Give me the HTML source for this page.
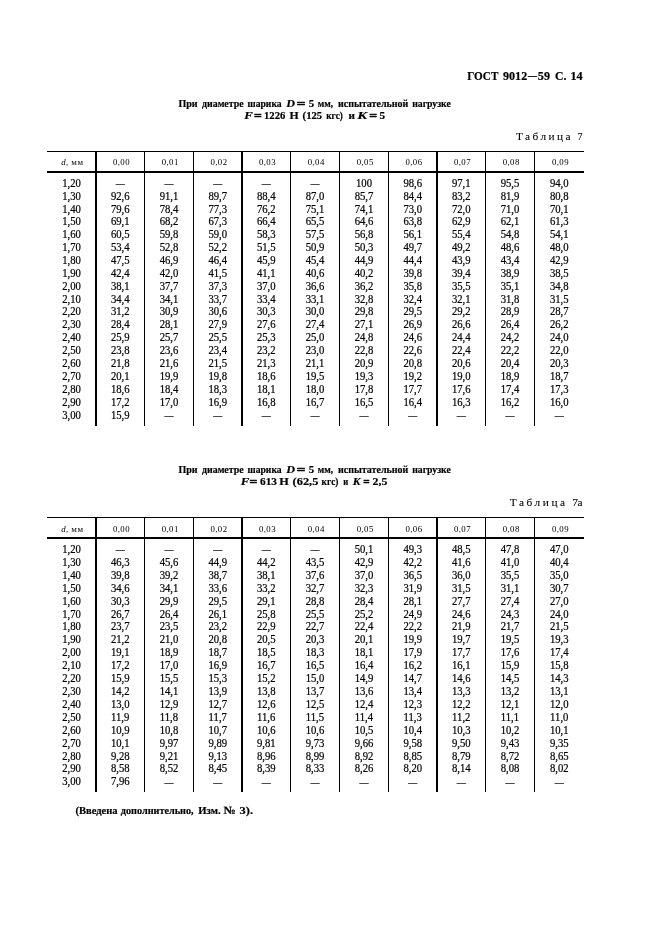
<!DOCTYPE html>
<html lang="ru"><head><meta charset="utf-8"><title>ГОСТ 9012—59 С. 14</title>
<style>
html,body{margin:0;padding:0;background:#fff;}
body{width:661px;height:936px;overflow:hidden;}
svg{display:block;}
text{font-family:"Liberation Serif",serif;fill:#000;}
.hdr{font-size:12.5px;font-weight:bold;letter-spacing:0px;}
.title{font-size:11.4px;font-weight:bold;letter-spacing:0px;word-spacing:0px;}
.it{font-style:italic;}
.tabno{font-size:11.3px;letter-spacing:0px;}
.hcell{font-size:8.8px;letter-spacing:0.4px;fill:#000;}
.cell{font-size:10.7px;letter-spacing:0px;}
.dash{font-size:9px;}
.hd{font-size:10px;stroke-width:0.5px;}
.cell{stroke:#000;stroke-width:0.2px;}
.hcell{stroke:#000;stroke-width:0.0px;}
.mm{letter-spacing:0.8px;}
.eq{stroke-width:0.55px;}
.title,.hdr,.foot{stroke:#000;stroke-width:0.2px;}
.tabno{stroke:#000;stroke-width:0.08px;}
.foot{font-size:11px;font-weight:bold;letter-spacing:0px;}
</style></head><body>
<svg width="661" height="936" viewBox="0 0 661 936">
<rect x="0" y="0" width="661" height="936" fill="#fff"/>
<text x="467.2" y="80.1" class="hdr" text-anchor="start" textLength="31.2" lengthAdjust="spacingAndGlyphs">ГОСТ</text>
<text x="503.0" y="80.1" class="hdr" text-anchor="start" textLength="24.2" lengthAdjust="spacingAndGlyphs">9012</text>
<text x="528.0" y="79.2" class="hdr hd" text-anchor="start" textLength="9.0" lengthAdjust="spacingAndGlyphs">—</text>
<text x="537.8" y="80.1" class="hdr" text-anchor="start" textLength="12.2" lengthAdjust="spacingAndGlyphs">59</text>
<text x="555.0" y="80.1" class="hdr" text-anchor="start" textLength="11.4" lengthAdjust="spacingAndGlyphs">С.</text>
<text x="570.4" y="80.1" class="hdr" text-anchor="start" textLength="12.2" lengthAdjust="spacingAndGlyphs">14</text>
<text x="178.4" y="106.9" class="title" text-anchor="start" textLength="19.2" lengthAdjust="spacingAndGlyphs">При</text>
<text x="202.0" y="106.9" class="title" text-anchor="start" textLength="41.6" lengthAdjust="spacingAndGlyphs">диаметре</text>
<text x="247.6" y="106.9" class="title" text-anchor="start" textLength="34.0" lengthAdjust="spacingAndGlyphs">шарика</text>
<text x="286.2" y="106.9" class="title" text-anchor="start" textLength="8.8" lengthAdjust="spacingAndGlyphs"><tspan class="it">D</tspan></text>
<text x="296.8" y="106.9" class="title" text-anchor="start" textLength="8.6" lengthAdjust="spacingAndGlyphs"><tspan class="eq">=</tspan></text>
<text x="308.8" y="106.9" class="title" text-anchor="start" textLength="5.4" lengthAdjust="spacingAndGlyphs">5</text>
<text x="317.8" y="106.9" class="title" text-anchor="start" textLength="15.4" lengthAdjust="spacingAndGlyphs">мм,</text>
<text x="338.0" y="106.9" class="title" text-anchor="start" textLength="70.4" lengthAdjust="spacingAndGlyphs">испытательной</text>
<text x="412.2" y="106.9" class="title" text-anchor="start" textLength="38.6" lengthAdjust="spacingAndGlyphs">нагрузке</text>
<text x="244.2" y="119.3" class="title" text-anchor="start" textLength="8.6" lengthAdjust="spacingAndGlyphs"><tspan class="it">F</tspan></text>
<text x="254.0" y="119.3" class="title" text-anchor="start" textLength="7.8" lengthAdjust="spacingAndGlyphs"><tspan class="eq">=</tspan></text>
<text x="264.0" y="119.3" class="title" text-anchor="start" textLength="21.4" lengthAdjust="spacingAndGlyphs">1226</text>
<text x="289.6" y="119.3" class="title" text-anchor="start" textLength="9.2" lengthAdjust="spacingAndGlyphs">Н</text>
<text x="302.6" y="119.3" class="title" text-anchor="start" textLength="19.6" lengthAdjust="spacingAndGlyphs">(125</text>
<text x="326.2" y="119.3" class="title" text-anchor="start" textLength="16.6" lengthAdjust="spacingAndGlyphs">кгс)</text>
<text x="348.4" y="119.3" class="title" text-anchor="start" textLength="6.4" lengthAdjust="spacingAndGlyphs">и</text>
<text x="357.2" y="119.3" class="title" text-anchor="start" textLength="10.0" lengthAdjust="spacingAndGlyphs"><tspan class="it">K</tspan></text>
<text x="369.2" y="119.3" class="title" text-anchor="start" textLength="7.8" lengthAdjust="spacingAndGlyphs"><tspan class="eq">=</tspan></text>
<text x="379.6" y="119.3" class="title" text-anchor="start" textLength="5.6" lengthAdjust="spacingAndGlyphs">5</text>
<text x="178.4" y="472.9" class="title" text-anchor="start" textLength="19.2" lengthAdjust="spacingAndGlyphs">При</text>
<text x="202.0" y="472.9" class="title" text-anchor="start" textLength="41.6" lengthAdjust="spacingAndGlyphs">диаметре</text>
<text x="247.6" y="472.9" class="title" text-anchor="start" textLength="34.0" lengthAdjust="spacingAndGlyphs">шарика</text>
<text x="286.2" y="472.9" class="title" text-anchor="start" textLength="8.8" lengthAdjust="spacingAndGlyphs"><tspan class="it">D</tspan></text>
<text x="296.8" y="472.9" class="title" text-anchor="start" textLength="8.6" lengthAdjust="spacingAndGlyphs"><tspan class="eq">=</tspan></text>
<text x="308.8" y="472.9" class="title" text-anchor="start" textLength="5.4" lengthAdjust="spacingAndGlyphs">5</text>
<text x="317.8" y="472.9" class="title" text-anchor="start" textLength="15.4" lengthAdjust="spacingAndGlyphs">мм,</text>
<text x="338.0" y="472.9" class="title" text-anchor="start" textLength="70.4" lengthAdjust="spacingAndGlyphs">испытательной</text>
<text x="412.2" y="472.9" class="title" text-anchor="start" textLength="38.6" lengthAdjust="spacingAndGlyphs">нагрузке</text>
<text x="240.8" y="485.0" class="title" text-anchor="start" textLength="8.6" lengthAdjust="spacingAndGlyphs"><tspan class="it">F</tspan></text>
<text x="249.6" y="485.0" class="title" text-anchor="start" textLength="7.8" lengthAdjust="spacingAndGlyphs"><tspan class="eq">=</tspan></text>
<text x="260.0" y="485.0" class="title" text-anchor="start" textLength="17.0" lengthAdjust="spacingAndGlyphs">613</text>
<text x="279.2" y="485.0" class="title" text-anchor="start" textLength="9.6" lengthAdjust="spacingAndGlyphs">Н</text>
<text x="292.6" y="485.0" class="title" text-anchor="start" textLength="25.8" lengthAdjust="spacingAndGlyphs">(62,5</text>
<text x="321.6" y="485.0" class="title" text-anchor="start" textLength="16.8" lengthAdjust="spacingAndGlyphs">кгс)</text>
<text x="343.2" y="485.0" class="title" text-anchor="start" textLength="5.0" lengthAdjust="spacingAndGlyphs">и</text>
<text x="352.8" y="485.0" class="title" text-anchor="start" textLength="7.8" lengthAdjust="spacingAndGlyphs"><tspan class="it">K</tspan></text>
<text x="363.2" y="485.0" class="title" text-anchor="start" textLength="6.4" lengthAdjust="spacingAndGlyphs"><tspan class="eq">=</tspan></text>
<text x="372.6" y="485.0" class="title" text-anchor="start" textLength="14.8" lengthAdjust="spacingAndGlyphs">2,5</text>
<text x="516.0" y="140.1" class="tabno" text-anchor="start" textLength="54.4" lengthAdjust="spacing">Таблица</text>
<text x="577.6" y="140.1" class="tabno" text-anchor="start" textLength="5.0" lengthAdjust="spacingAndGlyphs">7</text>
<text x="509.8" y="506.0" class="tabno" text-anchor="start" textLength="55.2" lengthAdjust="spacing">Таблица</text>
<text x="572.2" y="506.0" class="tabno" text-anchor="start" textLength="10.4" lengthAdjust="spacing">7а</text>
<text x="75.4" y="814.3" class="foot" text-anchor="start" textLength="42.2" lengthAdjust="spacingAndGlyphs">(Введена</text>
<text x="120.8" y="814.3" class="foot" text-anchor="start" textLength="72.8" lengthAdjust="spacingAndGlyphs">дополнительно,</text>
<text x="198.2" y="814.3" class="foot" text-anchor="start" textLength="22.4" lengthAdjust="spacingAndGlyphs">Изм.</text>
<text x="223.6" y="814.3" class="foot" text-anchor="start" textLength="12.2" lengthAdjust="spacingAndGlyphs">№</text>
<text x="239.6" y="814.3" class="foot" text-anchor="start" textLength="13.6" lengthAdjust="spacingAndGlyphs">3).</text>
<rect x="47" y="151" width="537" height="1.0" fill="#000"/>
<rect x="47" y="171" width="537" height="2" fill="#000"/>
<rect x="95" y="151" width="2" height="275" fill="#000"/>
<rect x="144" y="151" width="1" height="275" fill="#000"/>
<rect x="193" y="151" width="1" height="275" fill="#000"/>
<rect x="241" y="151" width="2" height="275" fill="#000"/>
<rect x="290" y="151" width="1" height="275" fill="#000"/>
<rect x="339" y="151" width="1" height="275" fill="#000"/>
<rect x="388" y="151" width="1" height="275" fill="#000"/>
<rect x="436" y="151" width="2" height="275" fill="#000"/>
<rect x="485" y="151" width="1" height="275" fill="#000"/>
<rect x="534" y="151" width="1" height="275" fill="#000"/>
<text x="72.5" y="165.1" class="hcell" text-anchor="middle"><tspan class="it">d</tspan>, <tspan class="mm">мм</tspan></text>
<text x="121.45" y="165.1" class="hcell" text-anchor="middle">0,00</text>
<text x="170.2" y="165.1" class="hcell" text-anchor="middle">0,01</text>
<text x="218.95" y="165.1" class="hcell" text-anchor="middle">0,02</text>
<text x="267.45" y="165.1" class="hcell" text-anchor="middle">0,03</text>
<text x="316.2" y="165.1" class="hcell" text-anchor="middle">0,04</text>
<text x="365.2" y="165.1" class="hcell" text-anchor="middle">0,05</text>
<text x="413.95" y="165.1" class="hcell" text-anchor="middle">0,06</text>
<text x="462.45" y="165.1" class="hcell" text-anchor="middle">0,07</text>
<text x="511.2" y="165.1" class="hcell" text-anchor="middle">0,08</text>
<text x="560.45" y="165.1" class="hcell" text-anchor="middle">0,09</text>
<text x="71.5" y="186.8" class="cell" text-anchor="middle" transform="matrix(1 0 0 1.08 0 -14.944)">1,20</text>
<text x="120.25" y="185.5" class="cell dash" text-anchor="middle">—</text>
<text x="169.0" y="185.5" class="cell dash" text-anchor="middle">—</text>
<text x="217.75" y="185.5" class="cell dash" text-anchor="middle">—</text>
<text x="266.25" y="185.5" class="cell dash" text-anchor="middle">—</text>
<text x="315.0" y="185.5" class="cell dash" text-anchor="middle">—</text>
<text x="364.0" y="186.8" class="cell" text-anchor="middle" transform="matrix(1 0 0 1.08 0 -14.944)">100</text>
<text x="412.75" y="186.8" class="cell" text-anchor="middle" transform="matrix(1 0 0 1.08 0 -14.944)">98,6</text>
<text x="461.25" y="186.8" class="cell" text-anchor="middle" transform="matrix(1 0 0 1.08 0 -14.944)">97,1</text>
<text x="510.0" y="186.8" class="cell" text-anchor="middle" transform="matrix(1 0 0 1.08 0 -14.944)">95,5</text>
<text x="559.25" y="186.8" class="cell" text-anchor="middle" transform="matrix(1 0 0 1.08 0 -14.944)">94,0</text>
<text x="71.5" y="199.67" class="cell" text-anchor="middle" transform="matrix(1 0 0 1.08 0 -15.974)">1,30</text>
<text x="120.25" y="199.67" class="cell" text-anchor="middle" transform="matrix(1 0 0 1.08 0 -15.974)">92,6</text>
<text x="169.0" y="199.67" class="cell" text-anchor="middle" transform="matrix(1 0 0 1.08 0 -15.974)">91,1</text>
<text x="217.75" y="199.67" class="cell" text-anchor="middle" transform="matrix(1 0 0 1.08 0 -15.974)">89,7</text>
<text x="266.25" y="199.67" class="cell" text-anchor="middle" transform="matrix(1 0 0 1.08 0 -15.974)">88,4</text>
<text x="315.0" y="199.67" class="cell" text-anchor="middle" transform="matrix(1 0 0 1.08 0 -15.974)">87,0</text>
<text x="364.0" y="199.67" class="cell" text-anchor="middle" transform="matrix(1 0 0 1.08 0 -15.974)">85,7</text>
<text x="412.75" y="199.67" class="cell" text-anchor="middle" transform="matrix(1 0 0 1.08 0 -15.974)">84,4</text>
<text x="461.25" y="199.67" class="cell" text-anchor="middle" transform="matrix(1 0 0 1.08 0 -15.974)">83,2</text>
<text x="510.0" y="199.67" class="cell" text-anchor="middle" transform="matrix(1 0 0 1.08 0 -15.974)">81,9</text>
<text x="559.25" y="199.67" class="cell" text-anchor="middle" transform="matrix(1 0 0 1.08 0 -15.974)">80,8</text>
<text x="71.5" y="212.54" class="cell" text-anchor="middle" transform="matrix(1 0 0 1.08 0 -17.003)">1,40</text>
<text x="120.25" y="212.54" class="cell" text-anchor="middle" transform="matrix(1 0 0 1.08 0 -17.003)">79,6</text>
<text x="169.0" y="212.54" class="cell" text-anchor="middle" transform="matrix(1 0 0 1.08 0 -17.003)">78,4</text>
<text x="217.75" y="212.54" class="cell" text-anchor="middle" transform="matrix(1 0 0 1.08 0 -17.003)">77,3</text>
<text x="266.25" y="212.54" class="cell" text-anchor="middle" transform="matrix(1 0 0 1.08 0 -17.003)">76,2</text>
<text x="315.0" y="212.54" class="cell" text-anchor="middle" transform="matrix(1 0 0 1.08 0 -17.003)">75,1</text>
<text x="364.0" y="212.54" class="cell" text-anchor="middle" transform="matrix(1 0 0 1.08 0 -17.003)">74,1</text>
<text x="412.75" y="212.54" class="cell" text-anchor="middle" transform="matrix(1 0 0 1.08 0 -17.003)">73,0</text>
<text x="461.25" y="212.54" class="cell" text-anchor="middle" transform="matrix(1 0 0 1.08 0 -17.003)">72,0</text>
<text x="510.0" y="212.54" class="cell" text-anchor="middle" transform="matrix(1 0 0 1.08 0 -17.003)">71,0</text>
<text x="559.25" y="212.54" class="cell" text-anchor="middle" transform="matrix(1 0 0 1.08 0 -17.003)">70,1</text>
<text x="71.5" y="225.41" class="cell" text-anchor="middle" transform="matrix(1 0 0 1.08 0 -18.033)">1,50</text>
<text x="120.25" y="225.41" class="cell" text-anchor="middle" transform="matrix(1 0 0 1.08 0 -18.033)">69,1</text>
<text x="169.0" y="225.41" class="cell" text-anchor="middle" transform="matrix(1 0 0 1.08 0 -18.033)">68,2</text>
<text x="217.75" y="225.41" class="cell" text-anchor="middle" transform="matrix(1 0 0 1.08 0 -18.033)">67,3</text>
<text x="266.25" y="225.41" class="cell" text-anchor="middle" transform="matrix(1 0 0 1.08 0 -18.033)">66,4</text>
<text x="315.0" y="225.41" class="cell" text-anchor="middle" transform="matrix(1 0 0 1.08 0 -18.033)">65,5</text>
<text x="364.0" y="225.41" class="cell" text-anchor="middle" transform="matrix(1 0 0 1.08 0 -18.033)">64,6</text>
<text x="412.75" y="225.41" class="cell" text-anchor="middle" transform="matrix(1 0 0 1.08 0 -18.033)">63,8</text>
<text x="461.25" y="225.41" class="cell" text-anchor="middle" transform="matrix(1 0 0 1.08 0 -18.033)">62,9</text>
<text x="510.0" y="225.41" class="cell" text-anchor="middle" transform="matrix(1 0 0 1.08 0 -18.033)">62,1</text>
<text x="559.25" y="225.41" class="cell" text-anchor="middle" transform="matrix(1 0 0 1.08 0 -18.033)">61,3</text>
<text x="71.5" y="238.28" class="cell" text-anchor="middle" transform="matrix(1 0 0 1.08 0 -19.062)">1,60</text>
<text x="120.25" y="238.28" class="cell" text-anchor="middle" transform="matrix(1 0 0 1.08 0 -19.062)">60,5</text>
<text x="169.0" y="238.28" class="cell" text-anchor="middle" transform="matrix(1 0 0 1.08 0 -19.062)">59,8</text>
<text x="217.75" y="238.28" class="cell" text-anchor="middle" transform="matrix(1 0 0 1.08 0 -19.062)">59,0</text>
<text x="266.25" y="238.28" class="cell" text-anchor="middle" transform="matrix(1 0 0 1.08 0 -19.062)">58,3</text>
<text x="315.0" y="238.28" class="cell" text-anchor="middle" transform="matrix(1 0 0 1.08 0 -19.062)">57,5</text>
<text x="364.0" y="238.28" class="cell" text-anchor="middle" transform="matrix(1 0 0 1.08 0 -19.062)">56,8</text>
<text x="412.75" y="238.28" class="cell" text-anchor="middle" transform="matrix(1 0 0 1.08 0 -19.062)">56,1</text>
<text x="461.25" y="238.28" class="cell" text-anchor="middle" transform="matrix(1 0 0 1.08 0 -19.062)">55,4</text>
<text x="510.0" y="238.28" class="cell" text-anchor="middle" transform="matrix(1 0 0 1.08 0 -19.062)">54,8</text>
<text x="559.25" y="238.28" class="cell" text-anchor="middle" transform="matrix(1 0 0 1.08 0 -19.062)">54,1</text>
<text x="71.5" y="251.15" class="cell" text-anchor="middle" transform="matrix(1 0 0 1.08 0 -20.092)">1,70</text>
<text x="120.25" y="251.15" class="cell" text-anchor="middle" transform="matrix(1 0 0 1.08 0 -20.092)">53,4</text>
<text x="169.0" y="251.15" class="cell" text-anchor="middle" transform="matrix(1 0 0 1.08 0 -20.092)">52,8</text>
<text x="217.75" y="251.15" class="cell" text-anchor="middle" transform="matrix(1 0 0 1.08 0 -20.092)">52,2</text>
<text x="266.25" y="251.15" class="cell" text-anchor="middle" transform="matrix(1 0 0 1.08 0 -20.092)">51,5</text>
<text x="315.0" y="251.15" class="cell" text-anchor="middle" transform="matrix(1 0 0 1.08 0 -20.092)">50,9</text>
<text x="364.0" y="251.15" class="cell" text-anchor="middle" transform="matrix(1 0 0 1.08 0 -20.092)">50,3</text>
<text x="412.75" y="251.15" class="cell" text-anchor="middle" transform="matrix(1 0 0 1.08 0 -20.092)">49,7</text>
<text x="461.25" y="251.15" class="cell" text-anchor="middle" transform="matrix(1 0 0 1.08 0 -20.092)">49,2</text>
<text x="510.0" y="251.15" class="cell" text-anchor="middle" transform="matrix(1 0 0 1.08 0 -20.092)">48,6</text>
<text x="559.25" y="251.15" class="cell" text-anchor="middle" transform="matrix(1 0 0 1.08 0 -20.092)">48,0</text>
<text x="71.5" y="264.02" class="cell" text-anchor="middle" transform="matrix(1 0 0 1.08 0 -21.122)">1,80</text>
<text x="120.25" y="264.02" class="cell" text-anchor="middle" transform="matrix(1 0 0 1.08 0 -21.122)">47,5</text>
<text x="169.0" y="264.02" class="cell" text-anchor="middle" transform="matrix(1 0 0 1.08 0 -21.122)">46,9</text>
<text x="217.75" y="264.02" class="cell" text-anchor="middle" transform="matrix(1 0 0 1.08 0 -21.122)">46,4</text>
<text x="266.25" y="264.02" class="cell" text-anchor="middle" transform="matrix(1 0 0 1.08 0 -21.122)">45,9</text>
<text x="315.0" y="264.02" class="cell" text-anchor="middle" transform="matrix(1 0 0 1.08 0 -21.122)">45,4</text>
<text x="364.0" y="264.02" class="cell" text-anchor="middle" transform="matrix(1 0 0 1.08 0 -21.122)">44,9</text>
<text x="412.75" y="264.02" class="cell" text-anchor="middle" transform="matrix(1 0 0 1.08 0 -21.122)">44,4</text>
<text x="461.25" y="264.02" class="cell" text-anchor="middle" transform="matrix(1 0 0 1.08 0 -21.122)">43,9</text>
<text x="510.0" y="264.02" class="cell" text-anchor="middle" transform="matrix(1 0 0 1.08 0 -21.122)">43,4</text>
<text x="559.25" y="264.02" class="cell" text-anchor="middle" transform="matrix(1 0 0 1.08 0 -21.122)">42,9</text>
<text x="71.5" y="276.89" class="cell" text-anchor="middle" transform="matrix(1 0 0 1.08 0 -22.151)">1,90</text>
<text x="120.25" y="276.89" class="cell" text-anchor="middle" transform="matrix(1 0 0 1.08 0 -22.151)">42,4</text>
<text x="169.0" y="276.89" class="cell" text-anchor="middle" transform="matrix(1 0 0 1.08 0 -22.151)">42,0</text>
<text x="217.75" y="276.89" class="cell" text-anchor="middle" transform="matrix(1 0 0 1.08 0 -22.151)">41,5</text>
<text x="266.25" y="276.89" class="cell" text-anchor="middle" transform="matrix(1 0 0 1.08 0 -22.151)">41,1</text>
<text x="315.0" y="276.89" class="cell" text-anchor="middle" transform="matrix(1 0 0 1.08 0 -22.151)">40,6</text>
<text x="364.0" y="276.89" class="cell" text-anchor="middle" transform="matrix(1 0 0 1.08 0 -22.151)">40,2</text>
<text x="412.75" y="276.89" class="cell" text-anchor="middle" transform="matrix(1 0 0 1.08 0 -22.151)">39,8</text>
<text x="461.25" y="276.89" class="cell" text-anchor="middle" transform="matrix(1 0 0 1.08 0 -22.151)">39,4</text>
<text x="510.0" y="276.89" class="cell" text-anchor="middle" transform="matrix(1 0 0 1.08 0 -22.151)">38,9</text>
<text x="559.25" y="276.89" class="cell" text-anchor="middle" transform="matrix(1 0 0 1.08 0 -22.151)">38,5</text>
<text x="71.5" y="289.76" class="cell" text-anchor="middle" transform="matrix(1 0 0 1.08 0 -23.181)">2,00</text>
<text x="120.25" y="289.76" class="cell" text-anchor="middle" transform="matrix(1 0 0 1.08 0 -23.181)">38,1</text>
<text x="169.0" y="289.76" class="cell" text-anchor="middle" transform="matrix(1 0 0 1.08 0 -23.181)">37,7</text>
<text x="217.75" y="289.76" class="cell" text-anchor="middle" transform="matrix(1 0 0 1.08 0 -23.181)">37,3</text>
<text x="266.25" y="289.76" class="cell" text-anchor="middle" transform="matrix(1 0 0 1.08 0 -23.181)">37,0</text>
<text x="315.0" y="289.76" class="cell" text-anchor="middle" transform="matrix(1 0 0 1.08 0 -23.181)">36,6</text>
<text x="364.0" y="289.76" class="cell" text-anchor="middle" transform="matrix(1 0 0 1.08 0 -23.181)">36,2</text>
<text x="412.75" y="289.76" class="cell" text-anchor="middle" transform="matrix(1 0 0 1.08 0 -23.181)">35,8</text>
<text x="461.25" y="289.76" class="cell" text-anchor="middle" transform="matrix(1 0 0 1.08 0 -23.181)">35,5</text>
<text x="510.0" y="289.76" class="cell" text-anchor="middle" transform="matrix(1 0 0 1.08 0 -23.181)">35,1</text>
<text x="559.25" y="289.76" class="cell" text-anchor="middle" transform="matrix(1 0 0 1.08 0 -23.181)">34,8</text>
<text x="71.5" y="302.63" class="cell" text-anchor="middle" transform="matrix(1 0 0 1.08 0 -24.21)">2,10</text>
<text x="120.25" y="302.63" class="cell" text-anchor="middle" transform="matrix(1 0 0 1.08 0 -24.21)">34,4</text>
<text x="169.0" y="302.63" class="cell" text-anchor="middle" transform="matrix(1 0 0 1.08 0 -24.21)">34,1</text>
<text x="217.75" y="302.63" class="cell" text-anchor="middle" transform="matrix(1 0 0 1.08 0 -24.21)">33,7</text>
<text x="266.25" y="302.63" class="cell" text-anchor="middle" transform="matrix(1 0 0 1.08 0 -24.21)">33,4</text>
<text x="315.0" y="302.63" class="cell" text-anchor="middle" transform="matrix(1 0 0 1.08 0 -24.21)">33,1</text>
<text x="364.0" y="302.63" class="cell" text-anchor="middle" transform="matrix(1 0 0 1.08 0 -24.21)">32,8</text>
<text x="412.75" y="302.63" class="cell" text-anchor="middle" transform="matrix(1 0 0 1.08 0 -24.21)">32,4</text>
<text x="461.25" y="302.63" class="cell" text-anchor="middle" transform="matrix(1 0 0 1.08 0 -24.21)">32,1</text>
<text x="510.0" y="302.63" class="cell" text-anchor="middle" transform="matrix(1 0 0 1.08 0 -24.21)">31,8</text>
<text x="559.25" y="302.63" class="cell" text-anchor="middle" transform="matrix(1 0 0 1.08 0 -24.21)">31,5</text>
<text x="71.5" y="315.5" class="cell" text-anchor="middle" transform="matrix(1 0 0 1.08 0 -25.24)">2,20</text>
<text x="120.25" y="315.5" class="cell" text-anchor="middle" transform="matrix(1 0 0 1.08 0 -25.24)">31,2</text>
<text x="169.0" y="315.5" class="cell" text-anchor="middle" transform="matrix(1 0 0 1.08 0 -25.24)">30,9</text>
<text x="217.75" y="315.5" class="cell" text-anchor="middle" transform="matrix(1 0 0 1.08 0 -25.24)">30,6</text>
<text x="266.25" y="315.5" class="cell" text-anchor="middle" transform="matrix(1 0 0 1.08 0 -25.24)">30,3</text>
<text x="315.0" y="315.5" class="cell" text-anchor="middle" transform="matrix(1 0 0 1.08 0 -25.24)">30,0</text>
<text x="364.0" y="315.5" class="cell" text-anchor="middle" transform="matrix(1 0 0 1.08 0 -25.24)">29,8</text>
<text x="412.75" y="315.5" class="cell" text-anchor="middle" transform="matrix(1 0 0 1.08 0 -25.24)">29,5</text>
<text x="461.25" y="315.5" class="cell" text-anchor="middle" transform="matrix(1 0 0 1.08 0 -25.24)">29,2</text>
<text x="510.0" y="315.5" class="cell" text-anchor="middle" transform="matrix(1 0 0 1.08 0 -25.24)">28,9</text>
<text x="559.25" y="315.5" class="cell" text-anchor="middle" transform="matrix(1 0 0 1.08 0 -25.24)">28,7</text>
<text x="71.5" y="328.37" class="cell" text-anchor="middle" transform="matrix(1 0 0 1.08 0 -26.27)">2,30</text>
<text x="120.25" y="328.37" class="cell" text-anchor="middle" transform="matrix(1 0 0 1.08 0 -26.27)">28,4</text>
<text x="169.0" y="328.37" class="cell" text-anchor="middle" transform="matrix(1 0 0 1.08 0 -26.27)">28,1</text>
<text x="217.75" y="328.37" class="cell" text-anchor="middle" transform="matrix(1 0 0 1.08 0 -26.27)">27,9</text>
<text x="266.25" y="328.37" class="cell" text-anchor="middle" transform="matrix(1 0 0 1.08 0 -26.27)">27,6</text>
<text x="315.0" y="328.37" class="cell" text-anchor="middle" transform="matrix(1 0 0 1.08 0 -26.27)">27,4</text>
<text x="364.0" y="328.37" class="cell" text-anchor="middle" transform="matrix(1 0 0 1.08 0 -26.27)">27,1</text>
<text x="412.75" y="328.37" class="cell" text-anchor="middle" transform="matrix(1 0 0 1.08 0 -26.27)">26,9</text>
<text x="461.25" y="328.37" class="cell" text-anchor="middle" transform="matrix(1 0 0 1.08 0 -26.27)">26,6</text>
<text x="510.0" y="328.37" class="cell" text-anchor="middle" transform="matrix(1 0 0 1.08 0 -26.27)">26,4</text>
<text x="559.25" y="328.37" class="cell" text-anchor="middle" transform="matrix(1 0 0 1.08 0 -26.27)">26,2</text>
<text x="71.5" y="341.24" class="cell" text-anchor="middle" transform="matrix(1 0 0 1.08 0 -27.299)">2,40</text>
<text x="120.25" y="341.24" class="cell" text-anchor="middle" transform="matrix(1 0 0 1.08 0 -27.299)">25,9</text>
<text x="169.0" y="341.24" class="cell" text-anchor="middle" transform="matrix(1 0 0 1.08 0 -27.299)">25,7</text>
<text x="217.75" y="341.24" class="cell" text-anchor="middle" transform="matrix(1 0 0 1.08 0 -27.299)">25,5</text>
<text x="266.25" y="341.24" class="cell" text-anchor="middle" transform="matrix(1 0 0 1.08 0 -27.299)">25,3</text>
<text x="315.0" y="341.24" class="cell" text-anchor="middle" transform="matrix(1 0 0 1.08 0 -27.299)">25,0</text>
<text x="364.0" y="341.24" class="cell" text-anchor="middle" transform="matrix(1 0 0 1.08 0 -27.299)">24,8</text>
<text x="412.75" y="341.24" class="cell" text-anchor="middle" transform="matrix(1 0 0 1.08 0 -27.299)">24,6</text>
<text x="461.25" y="341.24" class="cell" text-anchor="middle" transform="matrix(1 0 0 1.08 0 -27.299)">24,4</text>
<text x="510.0" y="341.24" class="cell" text-anchor="middle" transform="matrix(1 0 0 1.08 0 -27.299)">24,2</text>
<text x="559.25" y="341.24" class="cell" text-anchor="middle" transform="matrix(1 0 0 1.08 0 -27.299)">24,0</text>
<text x="71.5" y="354.11" class="cell" text-anchor="middle" transform="matrix(1 0 0 1.08 0 -28.329)">2,50</text>
<text x="120.25" y="354.11" class="cell" text-anchor="middle" transform="matrix(1 0 0 1.08 0 -28.329)">23,8</text>
<text x="169.0" y="354.11" class="cell" text-anchor="middle" transform="matrix(1 0 0 1.08 0 -28.329)">23,6</text>
<text x="217.75" y="354.11" class="cell" text-anchor="middle" transform="matrix(1 0 0 1.08 0 -28.329)">23,4</text>
<text x="266.25" y="354.11" class="cell" text-anchor="middle" transform="matrix(1 0 0 1.08 0 -28.329)">23,2</text>
<text x="315.0" y="354.11" class="cell" text-anchor="middle" transform="matrix(1 0 0 1.08 0 -28.329)">23,0</text>
<text x="364.0" y="354.11" class="cell" text-anchor="middle" transform="matrix(1 0 0 1.08 0 -28.329)">22,8</text>
<text x="412.75" y="354.11" class="cell" text-anchor="middle" transform="matrix(1 0 0 1.08 0 -28.329)">22,6</text>
<text x="461.25" y="354.11" class="cell" text-anchor="middle" transform="matrix(1 0 0 1.08 0 -28.329)">22,4</text>
<text x="510.0" y="354.11" class="cell" text-anchor="middle" transform="matrix(1 0 0 1.08 0 -28.329)">22,2</text>
<text x="559.25" y="354.11" class="cell" text-anchor="middle" transform="matrix(1 0 0 1.08 0 -28.329)">22,0</text>
<text x="71.5" y="366.98" class="cell" text-anchor="middle" transform="matrix(1 0 0 1.08 0 -29.358)">2,60</text>
<text x="120.25" y="366.98" class="cell" text-anchor="middle" transform="matrix(1 0 0 1.08 0 -29.358)">21,8</text>
<text x="169.0" y="366.98" class="cell" text-anchor="middle" transform="matrix(1 0 0 1.08 0 -29.358)">21,6</text>
<text x="217.75" y="366.98" class="cell" text-anchor="middle" transform="matrix(1 0 0 1.08 0 -29.358)">21,5</text>
<text x="266.25" y="366.98" class="cell" text-anchor="middle" transform="matrix(1 0 0 1.08 0 -29.358)">21,3</text>
<text x="315.0" y="366.98" class="cell" text-anchor="middle" transform="matrix(1 0 0 1.08 0 -29.358)">21,1</text>
<text x="364.0" y="366.98" class="cell" text-anchor="middle" transform="matrix(1 0 0 1.08 0 -29.358)">20,9</text>
<text x="412.75" y="366.98" class="cell" text-anchor="middle" transform="matrix(1 0 0 1.08 0 -29.358)">20,8</text>
<text x="461.25" y="366.98" class="cell" text-anchor="middle" transform="matrix(1 0 0 1.08 0 -29.358)">20,6</text>
<text x="510.0" y="366.98" class="cell" text-anchor="middle" transform="matrix(1 0 0 1.08 0 -29.358)">20,4</text>
<text x="559.25" y="366.98" class="cell" text-anchor="middle" transform="matrix(1 0 0 1.08 0 -29.358)">20,3</text>
<text x="71.5" y="379.85" class="cell" text-anchor="middle" transform="matrix(1 0 0 1.08 0 -30.388)">2,70</text>
<text x="120.25" y="379.85" class="cell" text-anchor="middle" transform="matrix(1 0 0 1.08 0 -30.388)">20,1</text>
<text x="169.0" y="379.85" class="cell" text-anchor="middle" transform="matrix(1 0 0 1.08 0 -30.388)">19,9</text>
<text x="217.75" y="379.85" class="cell" text-anchor="middle" transform="matrix(1 0 0 1.08 0 -30.388)">19,8</text>
<text x="266.25" y="379.85" class="cell" text-anchor="middle" transform="matrix(1 0 0 1.08 0 -30.388)">18,6</text>
<text x="315.0" y="379.85" class="cell" text-anchor="middle" transform="matrix(1 0 0 1.08 0 -30.388)">19,5</text>
<text x="364.0" y="379.85" class="cell" text-anchor="middle" transform="matrix(1 0 0 1.08 0 -30.388)">19,3</text>
<text x="412.75" y="379.85" class="cell" text-anchor="middle" transform="matrix(1 0 0 1.08 0 -30.388)">19,2</text>
<text x="461.25" y="379.85" class="cell" text-anchor="middle" transform="matrix(1 0 0 1.08 0 -30.388)">19,0</text>
<text x="510.0" y="379.85" class="cell" text-anchor="middle" transform="matrix(1 0 0 1.08 0 -30.388)">18,9</text>
<text x="559.25" y="379.85" class="cell" text-anchor="middle" transform="matrix(1 0 0 1.08 0 -30.388)">18,7</text>
<text x="71.5" y="392.72" class="cell" text-anchor="middle" transform="matrix(1 0 0 1.08 0 -31.418)">2,80</text>
<text x="120.25" y="392.72" class="cell" text-anchor="middle" transform="matrix(1 0 0 1.08 0 -31.418)">18,6</text>
<text x="169.0" y="392.72" class="cell" text-anchor="middle" transform="matrix(1 0 0 1.08 0 -31.418)">18,4</text>
<text x="217.75" y="392.72" class="cell" text-anchor="middle" transform="matrix(1 0 0 1.08 0 -31.418)">18,3</text>
<text x="266.25" y="392.72" class="cell" text-anchor="middle" transform="matrix(1 0 0 1.08 0 -31.418)">18,1</text>
<text x="315.0" y="392.72" class="cell" text-anchor="middle" transform="matrix(1 0 0 1.08 0 -31.418)">18,0</text>
<text x="364.0" y="392.72" class="cell" text-anchor="middle" transform="matrix(1 0 0 1.08 0 -31.418)">17,8</text>
<text x="412.75" y="392.72" class="cell" text-anchor="middle" transform="matrix(1 0 0 1.08 0 -31.418)">17,7</text>
<text x="461.25" y="392.72" class="cell" text-anchor="middle" transform="matrix(1 0 0 1.08 0 -31.418)">17,6</text>
<text x="510.0" y="392.72" class="cell" text-anchor="middle" transform="matrix(1 0 0 1.08 0 -31.418)">17,4</text>
<text x="559.25" y="392.72" class="cell" text-anchor="middle" transform="matrix(1 0 0 1.08 0 -31.418)">17,3</text>
<text x="71.5" y="405.59" class="cell" text-anchor="middle" transform="matrix(1 0 0 1.08 0 -32.447)">2,90</text>
<text x="120.25" y="405.59" class="cell" text-anchor="middle" transform="matrix(1 0 0 1.08 0 -32.447)">17,2</text>
<text x="169.0" y="405.59" class="cell" text-anchor="middle" transform="matrix(1 0 0 1.08 0 -32.447)">17,0</text>
<text x="217.75" y="405.59" class="cell" text-anchor="middle" transform="matrix(1 0 0 1.08 0 -32.447)">16,9</text>
<text x="266.25" y="405.59" class="cell" text-anchor="middle" transform="matrix(1 0 0 1.08 0 -32.447)">16,8</text>
<text x="315.0" y="405.59" class="cell" text-anchor="middle" transform="matrix(1 0 0 1.08 0 -32.447)">16,7</text>
<text x="364.0" y="405.59" class="cell" text-anchor="middle" transform="matrix(1 0 0 1.08 0 -32.447)">16,5</text>
<text x="412.75" y="405.59" class="cell" text-anchor="middle" transform="matrix(1 0 0 1.08 0 -32.447)">16,4</text>
<text x="461.25" y="405.59" class="cell" text-anchor="middle" transform="matrix(1 0 0 1.08 0 -32.447)">16,3</text>
<text x="510.0" y="405.59" class="cell" text-anchor="middle" transform="matrix(1 0 0 1.08 0 -32.447)">16,2</text>
<text x="559.25" y="405.59" class="cell" text-anchor="middle" transform="matrix(1 0 0 1.08 0 -32.447)">16,0</text>
<text x="71.5" y="419.36" class="cell" text-anchor="middle" transform="matrix(1 0 0 1.08 0 -33.549)">3,00</text>
<text x="120.25" y="419.36" class="cell" text-anchor="middle" transform="matrix(1 0 0 1.08 0 -33.549)">15,9</text>
<text x="169.0" y="418.46" class="cell dash" text-anchor="middle">—</text>
<text x="217.75" y="418.46" class="cell dash" text-anchor="middle">—</text>
<text x="266.25" y="418.46" class="cell dash" text-anchor="middle">—</text>
<text x="315.0" y="418.46" class="cell dash" text-anchor="middle">—</text>
<text x="364.0" y="418.46" class="cell dash" text-anchor="middle">—</text>
<text x="412.75" y="418.46" class="cell dash" text-anchor="middle">—</text>
<text x="461.25" y="418.46" class="cell dash" text-anchor="middle">—</text>
<text x="510.0" y="418.46" class="cell dash" text-anchor="middle">—</text>
<text x="559.25" y="418.46" class="cell dash" text-anchor="middle">—</text>
<rect x="47" y="517" width="537" height="1.0" fill="#000"/>
<rect x="47" y="537" width="537" height="2" fill="#000"/>
<rect x="95" y="517" width="2" height="275" fill="#000"/>
<rect x="144" y="517" width="1" height="275" fill="#000"/>
<rect x="193" y="517" width="1" height="275" fill="#000"/>
<rect x="241" y="517" width="2" height="275" fill="#000"/>
<rect x="290" y="517" width="1" height="275" fill="#000"/>
<rect x="339" y="517" width="1" height="275" fill="#000"/>
<rect x="388" y="517" width="1" height="275" fill="#000"/>
<rect x="436" y="517" width="2" height="275" fill="#000"/>
<rect x="485" y="517" width="1" height="275" fill="#000"/>
<rect x="534" y="517" width="1" height="275" fill="#000"/>
<text x="72.5" y="532.0" class="hcell" text-anchor="middle"><tspan class="it">d</tspan>, <tspan class="mm">мм</tspan></text>
<text x="121.45" y="532.0" class="hcell" text-anchor="middle">0,00</text>
<text x="170.2" y="532.0" class="hcell" text-anchor="middle">0,01</text>
<text x="218.95" y="532.0" class="hcell" text-anchor="middle">0,02</text>
<text x="267.45" y="532.0" class="hcell" text-anchor="middle">0,03</text>
<text x="316.2" y="532.0" class="hcell" text-anchor="middle">0,04</text>
<text x="365.2" y="532.0" class="hcell" text-anchor="middle">0,05</text>
<text x="413.95" y="532.0" class="hcell" text-anchor="middle">0,06</text>
<text x="462.45" y="532.0" class="hcell" text-anchor="middle">0,07</text>
<text x="511.2" y="532.0" class="hcell" text-anchor="middle">0,08</text>
<text x="560.45" y="532.0" class="hcell" text-anchor="middle">0,09</text>
<text x="71.5" y="552.8" class="cell" text-anchor="middle" transform="matrix(1 0 0 1.08 0 -44.224)">1,20</text>
<text x="120.25" y="551.5" class="cell dash" text-anchor="middle">—</text>
<text x="169.0" y="551.5" class="cell dash" text-anchor="middle">—</text>
<text x="217.75" y="551.5" class="cell dash" text-anchor="middle">—</text>
<text x="266.25" y="551.5" class="cell dash" text-anchor="middle">—</text>
<text x="315.0" y="551.5" class="cell dash" text-anchor="middle">—</text>
<text x="364.0" y="552.8" class="cell" text-anchor="middle" transform="matrix(1 0 0 1.08 0 -44.224)">50,1</text>
<text x="412.75" y="552.8" class="cell" text-anchor="middle" transform="matrix(1 0 0 1.08 0 -44.224)">49,3</text>
<text x="461.25" y="552.8" class="cell" text-anchor="middle" transform="matrix(1 0 0 1.08 0 -44.224)">48,5</text>
<text x="510.0" y="552.8" class="cell" text-anchor="middle" transform="matrix(1 0 0 1.08 0 -44.224)">47,8</text>
<text x="559.25" y="552.8" class="cell" text-anchor="middle" transform="matrix(1 0 0 1.08 0 -44.224)">47,0</text>
<text x="71.5" y="565.67" class="cell" text-anchor="middle" transform="matrix(1 0 0 1.08 0 -45.254)">1,30</text>
<text x="120.25" y="565.67" class="cell" text-anchor="middle" transform="matrix(1 0 0 1.08 0 -45.254)">46,3</text>
<text x="169.0" y="565.67" class="cell" text-anchor="middle" transform="matrix(1 0 0 1.08 0 -45.254)">45,6</text>
<text x="217.75" y="565.67" class="cell" text-anchor="middle" transform="matrix(1 0 0 1.08 0 -45.254)">44,9</text>
<text x="266.25" y="565.67" class="cell" text-anchor="middle" transform="matrix(1 0 0 1.08 0 -45.254)">44,2</text>
<text x="315.0" y="565.67" class="cell" text-anchor="middle" transform="matrix(1 0 0 1.08 0 -45.254)">43,5</text>
<text x="364.0" y="565.67" class="cell" text-anchor="middle" transform="matrix(1 0 0 1.08 0 -45.254)">42,9</text>
<text x="412.75" y="565.67" class="cell" text-anchor="middle" transform="matrix(1 0 0 1.08 0 -45.254)">42,2</text>
<text x="461.25" y="565.67" class="cell" text-anchor="middle" transform="matrix(1 0 0 1.08 0 -45.254)">41,6</text>
<text x="510.0" y="565.67" class="cell" text-anchor="middle" transform="matrix(1 0 0 1.08 0 -45.254)">41,0</text>
<text x="559.25" y="565.67" class="cell" text-anchor="middle" transform="matrix(1 0 0 1.08 0 -45.254)">40,4</text>
<text x="71.5" y="578.54" class="cell" text-anchor="middle" transform="matrix(1 0 0 1.08 0 -46.283)">1,40</text>
<text x="120.25" y="578.54" class="cell" text-anchor="middle" transform="matrix(1 0 0 1.08 0 -46.283)">39,8</text>
<text x="169.0" y="578.54" class="cell" text-anchor="middle" transform="matrix(1 0 0 1.08 0 -46.283)">39,2</text>
<text x="217.75" y="578.54" class="cell" text-anchor="middle" transform="matrix(1 0 0 1.08 0 -46.283)">38,7</text>
<text x="266.25" y="578.54" class="cell" text-anchor="middle" transform="matrix(1 0 0 1.08 0 -46.283)">38,1</text>
<text x="315.0" y="578.54" class="cell" text-anchor="middle" transform="matrix(1 0 0 1.08 0 -46.283)">37,6</text>
<text x="364.0" y="578.54" class="cell" text-anchor="middle" transform="matrix(1 0 0 1.08 0 -46.283)">37,0</text>
<text x="412.75" y="578.54" class="cell" text-anchor="middle" transform="matrix(1 0 0 1.08 0 -46.283)">36,5</text>
<text x="461.25" y="578.54" class="cell" text-anchor="middle" transform="matrix(1 0 0 1.08 0 -46.283)">36,0</text>
<text x="510.0" y="578.54" class="cell" text-anchor="middle" transform="matrix(1 0 0 1.08 0 -46.283)">35,5</text>
<text x="559.25" y="578.54" class="cell" text-anchor="middle" transform="matrix(1 0 0 1.08 0 -46.283)">35,0</text>
<text x="71.5" y="592.31" class="cell" text-anchor="middle" transform="matrix(1 0 0 1.08 0 -47.385)">1,50</text>
<text x="120.25" y="592.31" class="cell" text-anchor="middle" transform="matrix(1 0 0 1.08 0 -47.385)">34,6</text>
<text x="169.0" y="592.31" class="cell" text-anchor="middle" transform="matrix(1 0 0 1.08 0 -47.385)">34,1</text>
<text x="217.75" y="592.31" class="cell" text-anchor="middle" transform="matrix(1 0 0 1.08 0 -47.385)">33,6</text>
<text x="266.25" y="592.31" class="cell" text-anchor="middle" transform="matrix(1 0 0 1.08 0 -47.385)">33,2</text>
<text x="315.0" y="592.31" class="cell" text-anchor="middle" transform="matrix(1 0 0 1.08 0 -47.385)">32,7</text>
<text x="364.0" y="592.31" class="cell" text-anchor="middle" transform="matrix(1 0 0 1.08 0 -47.385)">32,3</text>
<text x="412.75" y="592.31" class="cell" text-anchor="middle" transform="matrix(1 0 0 1.08 0 -47.385)">31,9</text>
<text x="461.25" y="592.31" class="cell" text-anchor="middle" transform="matrix(1 0 0 1.08 0 -47.385)">31,5</text>
<text x="510.0" y="592.31" class="cell" text-anchor="middle" transform="matrix(1 0 0 1.08 0 -47.385)">31,1</text>
<text x="559.25" y="592.31" class="cell" text-anchor="middle" transform="matrix(1 0 0 1.08 0 -47.385)">30,7</text>
<text x="71.5" y="605.18" class="cell" text-anchor="middle" transform="matrix(1 0 0 1.08 0 -48.414)">1,60</text>
<text x="120.25" y="605.18" class="cell" text-anchor="middle" transform="matrix(1 0 0 1.08 0 -48.414)">30,3</text>
<text x="169.0" y="605.18" class="cell" text-anchor="middle" transform="matrix(1 0 0 1.08 0 -48.414)">29,9</text>
<text x="217.75" y="605.18" class="cell" text-anchor="middle" transform="matrix(1 0 0 1.08 0 -48.414)">29,5</text>
<text x="266.25" y="605.18" class="cell" text-anchor="middle" transform="matrix(1 0 0 1.08 0 -48.414)">29,1</text>
<text x="315.0" y="605.18" class="cell" text-anchor="middle" transform="matrix(1 0 0 1.08 0 -48.414)">28,8</text>
<text x="364.0" y="605.18" class="cell" text-anchor="middle" transform="matrix(1 0 0 1.08 0 -48.414)">28,4</text>
<text x="412.75" y="605.18" class="cell" text-anchor="middle" transform="matrix(1 0 0 1.08 0 -48.414)">28,1</text>
<text x="461.25" y="605.18" class="cell" text-anchor="middle" transform="matrix(1 0 0 1.08 0 -48.414)">27,7</text>
<text x="510.0" y="605.18" class="cell" text-anchor="middle" transform="matrix(1 0 0 1.08 0 -48.414)">27,4</text>
<text x="559.25" y="605.18" class="cell" text-anchor="middle" transform="matrix(1 0 0 1.08 0 -48.414)">27,0</text>
<text x="71.5" y="617.75" class="cell" text-anchor="middle" transform="matrix(1 0 0 1.08 0 -49.42)">1,70</text>
<text x="120.25" y="617.75" class="cell" text-anchor="middle" transform="matrix(1 0 0 1.08 0 -49.42)">26,7</text>
<text x="169.0" y="617.75" class="cell" text-anchor="middle" transform="matrix(1 0 0 1.08 0 -49.42)">26,4</text>
<text x="217.75" y="617.75" class="cell" text-anchor="middle" transform="matrix(1 0 0 1.08 0 -49.42)">26,1</text>
<text x="266.25" y="617.75" class="cell" text-anchor="middle" transform="matrix(1 0 0 1.08 0 -49.42)">25,8</text>
<text x="315.0" y="617.75" class="cell" text-anchor="middle" transform="matrix(1 0 0 1.08 0 -49.42)">25,5</text>
<text x="364.0" y="617.75" class="cell" text-anchor="middle" transform="matrix(1 0 0 1.08 0 -49.42)">25,2</text>
<text x="412.75" y="617.75" class="cell" text-anchor="middle" transform="matrix(1 0 0 1.08 0 -49.42)">24,9</text>
<text x="461.25" y="617.75" class="cell" text-anchor="middle" transform="matrix(1 0 0 1.08 0 -49.42)">24,6</text>
<text x="510.0" y="617.75" class="cell" text-anchor="middle" transform="matrix(1 0 0 1.08 0 -49.42)">24,3</text>
<text x="559.25" y="617.75" class="cell" text-anchor="middle" transform="matrix(1 0 0 1.08 0 -49.42)">24,0</text>
<text x="71.5" y="630.02" class="cell" text-anchor="middle" transform="matrix(1 0 0 1.08 0 -50.402)">1,80</text>
<text x="120.25" y="630.02" class="cell" text-anchor="middle" transform="matrix(1 0 0 1.08 0 -50.402)">23,7</text>
<text x="169.0" y="630.02" class="cell" text-anchor="middle" transform="matrix(1 0 0 1.08 0 -50.402)">23,5</text>
<text x="217.75" y="630.02" class="cell" text-anchor="middle" transform="matrix(1 0 0 1.08 0 -50.402)">23,2</text>
<text x="266.25" y="630.02" class="cell" text-anchor="middle" transform="matrix(1 0 0 1.08 0 -50.402)">22,9</text>
<text x="315.0" y="630.02" class="cell" text-anchor="middle" transform="matrix(1 0 0 1.08 0 -50.402)">22,7</text>
<text x="364.0" y="630.02" class="cell" text-anchor="middle" transform="matrix(1 0 0 1.08 0 -50.402)">22,4</text>
<text x="412.75" y="630.02" class="cell" text-anchor="middle" transform="matrix(1 0 0 1.08 0 -50.402)">22,2</text>
<text x="461.25" y="630.02" class="cell" text-anchor="middle" transform="matrix(1 0 0 1.08 0 -50.402)">21,9</text>
<text x="510.0" y="630.02" class="cell" text-anchor="middle" transform="matrix(1 0 0 1.08 0 -50.402)">21,7</text>
<text x="559.25" y="630.02" class="cell" text-anchor="middle" transform="matrix(1 0 0 1.08 0 -50.402)">21,5</text>
<text x="71.5" y="642.89" class="cell" text-anchor="middle" transform="matrix(1 0 0 1.08 0 -51.431)">1,90</text>
<text x="120.25" y="642.89" class="cell" text-anchor="middle" transform="matrix(1 0 0 1.08 0 -51.431)">21,2</text>
<text x="169.0" y="642.89" class="cell" text-anchor="middle" transform="matrix(1 0 0 1.08 0 -51.431)">21,0</text>
<text x="217.75" y="642.89" class="cell" text-anchor="middle" transform="matrix(1 0 0 1.08 0 -51.431)">20,8</text>
<text x="266.25" y="642.89" class="cell" text-anchor="middle" transform="matrix(1 0 0 1.08 0 -51.431)">20,5</text>
<text x="315.0" y="642.89" class="cell" text-anchor="middle" transform="matrix(1 0 0 1.08 0 -51.431)">20,3</text>
<text x="364.0" y="642.89" class="cell" text-anchor="middle" transform="matrix(1 0 0 1.08 0 -51.431)">20,1</text>
<text x="412.75" y="642.89" class="cell" text-anchor="middle" transform="matrix(1 0 0 1.08 0 -51.431)">19,9</text>
<text x="461.25" y="642.89" class="cell" text-anchor="middle" transform="matrix(1 0 0 1.08 0 -51.431)">19,7</text>
<text x="510.0" y="642.89" class="cell" text-anchor="middle" transform="matrix(1 0 0 1.08 0 -51.431)">19,5</text>
<text x="559.25" y="642.89" class="cell" text-anchor="middle" transform="matrix(1 0 0 1.08 0 -51.431)">19,3</text>
<text x="71.5" y="655.76" class="cell" text-anchor="middle" transform="matrix(1 0 0 1.08 0 -52.461)">2,00</text>
<text x="120.25" y="655.76" class="cell" text-anchor="middle" transform="matrix(1 0 0 1.08 0 -52.461)">19,1</text>
<text x="169.0" y="655.76" class="cell" text-anchor="middle" transform="matrix(1 0 0 1.08 0 -52.461)">18,9</text>
<text x="217.75" y="655.76" class="cell" text-anchor="middle" transform="matrix(1 0 0 1.08 0 -52.461)">18,7</text>
<text x="266.25" y="655.76" class="cell" text-anchor="middle" transform="matrix(1 0 0 1.08 0 -52.461)">18,5</text>
<text x="315.0" y="655.76" class="cell" text-anchor="middle" transform="matrix(1 0 0 1.08 0 -52.461)">18,3</text>
<text x="364.0" y="655.76" class="cell" text-anchor="middle" transform="matrix(1 0 0 1.08 0 -52.461)">18,1</text>
<text x="412.75" y="655.76" class="cell" text-anchor="middle" transform="matrix(1 0 0 1.08 0 -52.461)">17,9</text>
<text x="461.25" y="655.76" class="cell" text-anchor="middle" transform="matrix(1 0 0 1.08 0 -52.461)">17,7</text>
<text x="510.0" y="655.76" class="cell" text-anchor="middle" transform="matrix(1 0 0 1.08 0 -52.461)">17,6</text>
<text x="559.25" y="655.76" class="cell" text-anchor="middle" transform="matrix(1 0 0 1.08 0 -52.461)">17,4</text>
<text x="71.5" y="668.63" class="cell" text-anchor="middle" transform="matrix(1 0 0 1.08 0 -53.49)">2,10</text>
<text x="120.25" y="668.63" class="cell" text-anchor="middle" transform="matrix(1 0 0 1.08 0 -53.49)">17,2</text>
<text x="169.0" y="668.63" class="cell" text-anchor="middle" transform="matrix(1 0 0 1.08 0 -53.49)">17,0</text>
<text x="217.75" y="668.63" class="cell" text-anchor="middle" transform="matrix(1 0 0 1.08 0 -53.49)">16,9</text>
<text x="266.25" y="668.63" class="cell" text-anchor="middle" transform="matrix(1 0 0 1.08 0 -53.49)">16,7</text>
<text x="315.0" y="668.63" class="cell" text-anchor="middle" transform="matrix(1 0 0 1.08 0 -53.49)">16,5</text>
<text x="364.0" y="668.63" class="cell" text-anchor="middle" transform="matrix(1 0 0 1.08 0 -53.49)">16,4</text>
<text x="412.75" y="668.63" class="cell" text-anchor="middle" transform="matrix(1 0 0 1.08 0 -53.49)">16,2</text>
<text x="461.25" y="668.63" class="cell" text-anchor="middle" transform="matrix(1 0 0 1.08 0 -53.49)">16,1</text>
<text x="510.0" y="668.63" class="cell" text-anchor="middle" transform="matrix(1 0 0 1.08 0 -53.49)">15,9</text>
<text x="559.25" y="668.63" class="cell" text-anchor="middle" transform="matrix(1 0 0 1.08 0 -53.49)">15,8</text>
<text x="71.5" y="682.4" class="cell" text-anchor="middle" transform="matrix(1 0 0 1.08 0 -54.592)">2,20</text>
<text x="120.25" y="682.4" class="cell" text-anchor="middle" transform="matrix(1 0 0 1.08 0 -54.592)">15,9</text>
<text x="169.0" y="682.4" class="cell" text-anchor="middle" transform="matrix(1 0 0 1.08 0 -54.592)">15,5</text>
<text x="217.75" y="682.4" class="cell" text-anchor="middle" transform="matrix(1 0 0 1.08 0 -54.592)">15,3</text>
<text x="266.25" y="682.4" class="cell" text-anchor="middle" transform="matrix(1 0 0 1.08 0 -54.592)">15,2</text>
<text x="315.0" y="682.4" class="cell" text-anchor="middle" transform="matrix(1 0 0 1.08 0 -54.592)">15,0</text>
<text x="364.0" y="682.4" class="cell" text-anchor="middle" transform="matrix(1 0 0 1.08 0 -54.592)">14,9</text>
<text x="412.75" y="682.4" class="cell" text-anchor="middle" transform="matrix(1 0 0 1.08 0 -54.592)">14,7</text>
<text x="461.25" y="682.4" class="cell" text-anchor="middle" transform="matrix(1 0 0 1.08 0 -54.592)">14,6</text>
<text x="510.0" y="682.4" class="cell" text-anchor="middle" transform="matrix(1 0 0 1.08 0 -54.592)">14,5</text>
<text x="559.25" y="682.4" class="cell" text-anchor="middle" transform="matrix(1 0 0 1.08 0 -54.592)">14,3</text>
<text x="71.5" y="695.27" class="cell" text-anchor="middle" transform="matrix(1 0 0 1.08 0 -55.622)">2,30</text>
<text x="120.25" y="695.27" class="cell" text-anchor="middle" transform="matrix(1 0 0 1.08 0 -55.622)">14,2</text>
<text x="169.0" y="695.27" class="cell" text-anchor="middle" transform="matrix(1 0 0 1.08 0 -55.622)">14,1</text>
<text x="217.75" y="695.27" class="cell" text-anchor="middle" transform="matrix(1 0 0 1.08 0 -55.622)">13,9</text>
<text x="266.25" y="695.27" class="cell" text-anchor="middle" transform="matrix(1 0 0 1.08 0 -55.622)">13,8</text>
<text x="315.0" y="695.27" class="cell" text-anchor="middle" transform="matrix(1 0 0 1.08 0 -55.622)">13,7</text>
<text x="364.0" y="695.27" class="cell" text-anchor="middle" transform="matrix(1 0 0 1.08 0 -55.622)">13,6</text>
<text x="412.75" y="695.27" class="cell" text-anchor="middle" transform="matrix(1 0 0 1.08 0 -55.622)">13,4</text>
<text x="461.25" y="695.27" class="cell" text-anchor="middle" transform="matrix(1 0 0 1.08 0 -55.622)">13,3</text>
<text x="510.0" y="695.27" class="cell" text-anchor="middle" transform="matrix(1 0 0 1.08 0 -55.622)">13,2</text>
<text x="559.25" y="695.27" class="cell" text-anchor="middle" transform="matrix(1 0 0 1.08 0 -55.622)">13,1</text>
<text x="71.5" y="708.14" class="cell" text-anchor="middle" transform="matrix(1 0 0 1.08 0 -56.651)">2,40</text>
<text x="120.25" y="708.14" class="cell" text-anchor="middle" transform="matrix(1 0 0 1.08 0 -56.651)">13,0</text>
<text x="169.0" y="708.14" class="cell" text-anchor="middle" transform="matrix(1 0 0 1.08 0 -56.651)">12,9</text>
<text x="217.75" y="708.14" class="cell" text-anchor="middle" transform="matrix(1 0 0 1.08 0 -56.651)">12,7</text>
<text x="266.25" y="708.14" class="cell" text-anchor="middle" transform="matrix(1 0 0 1.08 0 -56.651)">12,6</text>
<text x="315.0" y="708.14" class="cell" text-anchor="middle" transform="matrix(1 0 0 1.08 0 -56.651)">12,5</text>
<text x="364.0" y="708.14" class="cell" text-anchor="middle" transform="matrix(1 0 0 1.08 0 -56.651)">12,4</text>
<text x="412.75" y="708.14" class="cell" text-anchor="middle" transform="matrix(1 0 0 1.08 0 -56.651)">12,3</text>
<text x="461.25" y="708.14" class="cell" text-anchor="middle" transform="matrix(1 0 0 1.08 0 -56.651)">12,2</text>
<text x="510.0" y="708.14" class="cell" text-anchor="middle" transform="matrix(1 0 0 1.08 0 -56.651)">12,1</text>
<text x="559.25" y="708.14" class="cell" text-anchor="middle" transform="matrix(1 0 0 1.08 0 -56.651)">12,0</text>
<text x="71.5" y="721.01" class="cell" text-anchor="middle" transform="matrix(1 0 0 1.08 0 -57.681)">2,50</text>
<text x="120.25" y="721.01" class="cell" text-anchor="middle" transform="matrix(1 0 0 1.08 0 -57.681)">11,9</text>
<text x="169.0" y="721.01" class="cell" text-anchor="middle" transform="matrix(1 0 0 1.08 0 -57.681)">11,8</text>
<text x="217.75" y="721.01" class="cell" text-anchor="middle" transform="matrix(1 0 0 1.08 0 -57.681)">11,7</text>
<text x="266.25" y="721.01" class="cell" text-anchor="middle" transform="matrix(1 0 0 1.08 0 -57.681)">11,6</text>
<text x="315.0" y="721.01" class="cell" text-anchor="middle" transform="matrix(1 0 0 1.08 0 -57.681)">11,5</text>
<text x="364.0" y="721.01" class="cell" text-anchor="middle" transform="matrix(1 0 0 1.08 0 -57.681)">11,4</text>
<text x="412.75" y="721.01" class="cell" text-anchor="middle" transform="matrix(1 0 0 1.08 0 -57.681)">11,3</text>
<text x="461.25" y="721.01" class="cell" text-anchor="middle" transform="matrix(1 0 0 1.08 0 -57.681)">11,2</text>
<text x="510.0" y="721.01" class="cell" text-anchor="middle" transform="matrix(1 0 0 1.08 0 -57.681)">11,1</text>
<text x="559.25" y="721.01" class="cell" text-anchor="middle" transform="matrix(1 0 0 1.08 0 -57.681)">11,0</text>
<text x="71.5" y="733.88" class="cell" text-anchor="middle" transform="matrix(1 0 0 1.08 0 -58.71)">2,60</text>
<text x="120.25" y="733.88" class="cell" text-anchor="middle" transform="matrix(1 0 0 1.08 0 -58.71)">10,9</text>
<text x="169.0" y="733.88" class="cell" text-anchor="middle" transform="matrix(1 0 0 1.08 0 -58.71)">10,8</text>
<text x="217.75" y="733.88" class="cell" text-anchor="middle" transform="matrix(1 0 0 1.08 0 -58.71)">10,7</text>
<text x="266.25" y="733.88" class="cell" text-anchor="middle" transform="matrix(1 0 0 1.08 0 -58.71)">10,6</text>
<text x="315.0" y="733.88" class="cell" text-anchor="middle" transform="matrix(1 0 0 1.08 0 -58.71)">10,6</text>
<text x="364.0" y="733.88" class="cell" text-anchor="middle" transform="matrix(1 0 0 1.08 0 -58.71)">10,5</text>
<text x="412.75" y="733.88" class="cell" text-anchor="middle" transform="matrix(1 0 0 1.08 0 -58.71)">10,4</text>
<text x="461.25" y="733.88" class="cell" text-anchor="middle" transform="matrix(1 0 0 1.08 0 -58.71)">10,3</text>
<text x="510.0" y="733.88" class="cell" text-anchor="middle" transform="matrix(1 0 0 1.08 0 -58.71)">10,2</text>
<text x="559.25" y="733.88" class="cell" text-anchor="middle" transform="matrix(1 0 0 1.08 0 -58.71)">10,1</text>
<text x="71.5" y="746.75" class="cell" text-anchor="middle" transform="matrix(1 0 0 1.08 0 -59.74)">2,70</text>
<text x="120.25" y="746.75" class="cell" text-anchor="middle" transform="matrix(1 0 0 1.08 0 -59.74)">10,1</text>
<text x="169.0" y="746.75" class="cell" text-anchor="middle" transform="matrix(1 0 0 1.08 0 -59.74)">9,97</text>
<text x="217.75" y="746.75" class="cell" text-anchor="middle" transform="matrix(1 0 0 1.08 0 -59.74)">9,89</text>
<text x="266.25" y="746.75" class="cell" text-anchor="middle" transform="matrix(1 0 0 1.08 0 -59.74)">9,81</text>
<text x="315.0" y="746.75" class="cell" text-anchor="middle" transform="matrix(1 0 0 1.08 0 -59.74)">9,73</text>
<text x="364.0" y="746.75" class="cell" text-anchor="middle" transform="matrix(1 0 0 1.08 0 -59.74)">9,66</text>
<text x="412.75" y="746.75" class="cell" text-anchor="middle" transform="matrix(1 0 0 1.08 0 -59.74)">9,58</text>
<text x="461.25" y="746.75" class="cell" text-anchor="middle" transform="matrix(1 0 0 1.08 0 -59.74)">9,50</text>
<text x="510.0" y="746.75" class="cell" text-anchor="middle" transform="matrix(1 0 0 1.08 0 -59.74)">9,43</text>
<text x="559.25" y="746.75" class="cell" text-anchor="middle" transform="matrix(1 0 0 1.08 0 -59.74)">9,35</text>
<text x="71.5" y="759.62" class="cell" text-anchor="middle" transform="matrix(1 0 0 1.08 0 -60.77)">2,80</text>
<text x="120.25" y="759.62" class="cell" text-anchor="middle" transform="matrix(1 0 0 1.08 0 -60.77)">9,28</text>
<text x="169.0" y="759.62" class="cell" text-anchor="middle" transform="matrix(1 0 0 1.08 0 -60.77)">9,21</text>
<text x="217.75" y="759.62" class="cell" text-anchor="middle" transform="matrix(1 0 0 1.08 0 -60.77)">9,13</text>
<text x="266.25" y="759.62" class="cell" text-anchor="middle" transform="matrix(1 0 0 1.08 0 -60.77)">8,96</text>
<text x="315.0" y="759.62" class="cell" text-anchor="middle" transform="matrix(1 0 0 1.08 0 -60.77)">8,99</text>
<text x="364.0" y="759.62" class="cell" text-anchor="middle" transform="matrix(1 0 0 1.08 0 -60.77)">8,92</text>
<text x="412.75" y="759.62" class="cell" text-anchor="middle" transform="matrix(1 0 0 1.08 0 -60.77)">8,85</text>
<text x="461.25" y="759.62" class="cell" text-anchor="middle" transform="matrix(1 0 0 1.08 0 -60.77)">8,79</text>
<text x="510.0" y="759.62" class="cell" text-anchor="middle" transform="matrix(1 0 0 1.08 0 -60.77)">8,72</text>
<text x="559.25" y="759.62" class="cell" text-anchor="middle" transform="matrix(1 0 0 1.08 0 -60.77)">8,65</text>
<text x="71.5" y="772.49" class="cell" text-anchor="middle" transform="matrix(1 0 0 1.08 0 -61.799)">2,90</text>
<text x="120.25" y="772.49" class="cell" text-anchor="middle" transform="matrix(1 0 0 1.08 0 -61.799)">8,58</text>
<text x="169.0" y="772.49" class="cell" text-anchor="middle" transform="matrix(1 0 0 1.08 0 -61.799)">8,52</text>
<text x="217.75" y="772.49" class="cell" text-anchor="middle" transform="matrix(1 0 0 1.08 0 -61.799)">8,45</text>
<text x="266.25" y="772.49" class="cell" text-anchor="middle" transform="matrix(1 0 0 1.08 0 -61.799)">8,39</text>
<text x="315.0" y="772.49" class="cell" text-anchor="middle" transform="matrix(1 0 0 1.08 0 -61.799)">8,33</text>
<text x="364.0" y="772.49" class="cell" text-anchor="middle" transform="matrix(1 0 0 1.08 0 -61.799)">8,26</text>
<text x="412.75" y="772.49" class="cell" text-anchor="middle" transform="matrix(1 0 0 1.08 0 -61.799)">8,20</text>
<text x="461.25" y="772.49" class="cell" text-anchor="middle" transform="matrix(1 0 0 1.08 0 -61.799)">8,14</text>
<text x="510.0" y="772.49" class="cell" text-anchor="middle" transform="matrix(1 0 0 1.08 0 -61.799)">8,08</text>
<text x="559.25" y="772.49" class="cell" text-anchor="middle" transform="matrix(1 0 0 1.08 0 -61.799)">8,02</text>
<text x="71.5" y="785.46" class="cell" text-anchor="middle" transform="matrix(1 0 0 1.08 0 -62.837)">3,00</text>
<text x="120.25" y="785.46" class="cell" text-anchor="middle" transform="matrix(1 0 0 1.08 0 -62.837)">7,96</text>
<text x="169.0" y="784.56" class="cell dash" text-anchor="middle">—</text>
<text x="217.75" y="784.56" class="cell dash" text-anchor="middle">—</text>
<text x="266.25" y="784.56" class="cell dash" text-anchor="middle">—</text>
<text x="315.0" y="784.56" class="cell dash" text-anchor="middle">—</text>
<text x="364.0" y="784.56" class="cell dash" text-anchor="middle">—</text>
<text x="412.75" y="784.56" class="cell dash" text-anchor="middle">—</text>
<text x="461.25" y="784.56" class="cell dash" text-anchor="middle">—</text>
<text x="510.0" y="784.56" class="cell dash" text-anchor="middle">—</text>
<text x="559.25" y="784.56" class="cell dash" text-anchor="middle">—</text>
</svg>
</body></html>
